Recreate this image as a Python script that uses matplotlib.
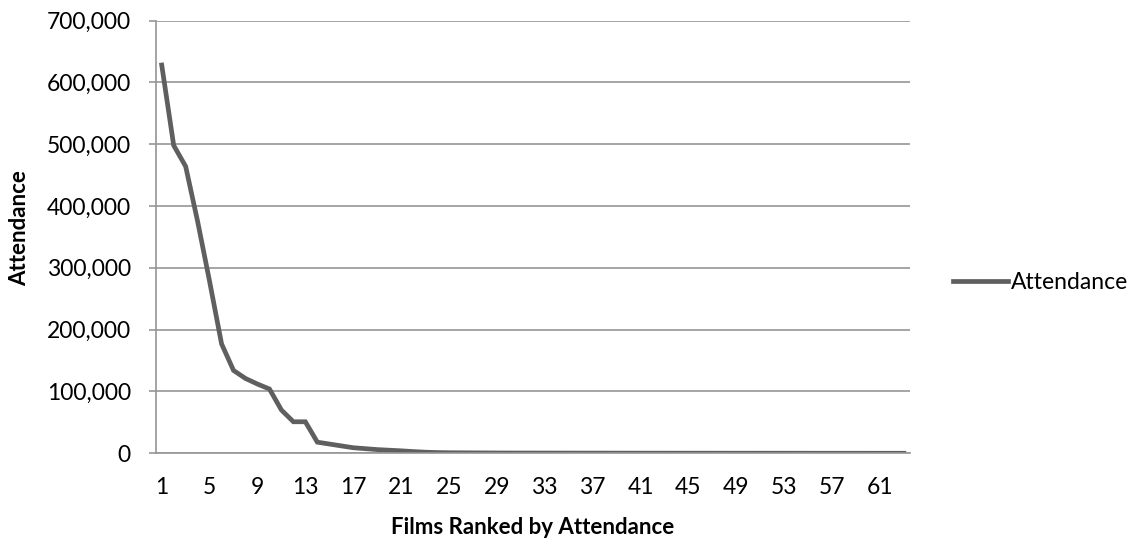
import matplotlib.pyplot as plt
from matplotlib.ticker import FuncFormatter

plt.rcParams['font.family'] = ['Lato', 'DejaVu Sans']

# films ranked by attendance (rank 1..63)
ranks = list(range(1, 64))
attendance = [628000, 498000, 464000, 375000, 278000, 177000, 134000, 121000,
              112000, 104000, 70000, 51000, 51000, 18000, 15000, 12000,
              9000, 7500, 6000, 5000, 4000, 2800, 1800, 1200,
              900, 800, 700, 600, 500, 450, 420, 400,
              380, 360, 340, 320, 300, 280, 260, 240,
              220, 200, 190, 180, 170, 160, 150, 140,
              130, 120, 110, 100, 90, 80, 70, 60,
              55, 50, 45, 40, 35, 30, 25]
xtick_labels = list(range(1, 62, 4))

grey_line = '#5f5f5f'
grid_c = '#969696'

fig = plt.figure(figsize=(11.46, 5.43), dpi=100)
ax = fig.add_axes([0.1359, 0.1652, 0.658, 0.797])

ax.plot(ranks, attendance, color=grey_line, lw=3.4, solid_joinstyle='miter',
        label='Attendance')

ax.set_xlim(0.5, 63.5)
ax.set_ylim(0, 700000)
ax.set_yticks(range(0, 700001, 100000))
ax.yaxis.set_major_formatter(FuncFormatter(lambda v, p: f'{int(v):,}'))
ax.set_xticks(xtick_labels)
ax.tick_params(axis='x', length=0, pad=17, labelsize=16.5)
ax.tick_params(axis='y', length=5, width=1.2, color=grid_c, pad=13, labelsize=16.5)
ax.grid(axis='y', color=grid_c, lw=1.2)
ax.set_axisbelow(True)

for s in ['top', 'right']:
    ax.spines[s].set_visible(False)
for s in ['left', 'bottom']:
    ax.spines[s].set_color(grid_c)
    ax.spines[s].set_linewidth(1.2)

ax.set_xlabel('Films Ranked by Attendance', fontsize=16, fontweight='bold', va='center')
ax.xaxis.set_label_coords(0.5, -0.171)
ax.set_ylabel('Attendance', fontsize=16, fontweight='bold', va='center')
ax.yaxis.set_label_coords(-0.18, 0.52)

fig.legend(loc='center left', bbox_to_anchor=(0.814, 0.479), frameon=False,
           fontsize=16.5, handlelength=2.4, handletextpad=0.1)

fig.savefig('out.png', dpi=100)
